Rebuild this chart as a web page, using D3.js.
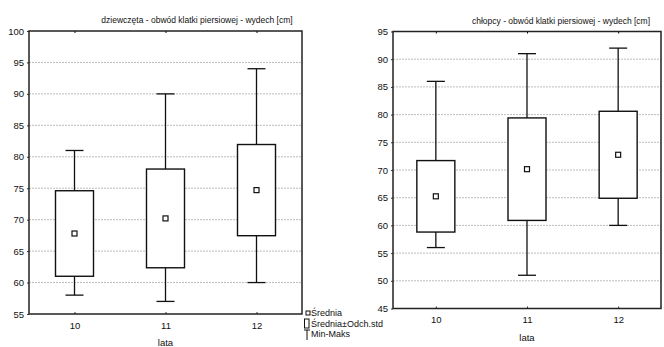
<!DOCTYPE html>
<html>
<head>
<meta charset="utf-8">
<script src="https://cdn.jsdelivr.net/npm/d3@7"></script>
<style>
  body { margin: 0; background: #fff; }
  svg { display: block; }
  text { font-family: "Liberation Sans Narrow", "Arial Narrow", "Liberation Sans", Arial, sans-serif; fill: #111; }
</style>
</head>
<body>
<div id="chart"></div>
<script>
// categories (age in years)
const categories = ['10', '11', '12'];

// girls
const girlsMean = [67.8, 70.2, 74.7];
const girlsSd = [6.8, 7.85, 7.25];
const girlsMin = [58, 57, 60];
const girlsMax = [81, 90, 94];
const girlsTicks = [55, 60, 65, 70, 75, 80, 85, 90, 95, 100];

// boys
const boysMean = [65.25, 70.15, 72.75];
const boysSd = [6.45, 9.25, 7.85];
const boysMin = [56, 51, 60];
const boysMax = [86, 91, 92];
const boysTicks = [45, 50, 55, 60, 65, 70, 75, 80, 85, 90, 95];

const legendLabels = ['Średnia', 'Średnia±Odch.std', 'Min-Maks'];

const svg = d3.select('#chart')
  .append('svg')
  .attr('width', 664)
  .attr('height', 347);

function drawBoxChart(opts) {
  const { left, top, width, height, title, titleX, mean, sd, min, max, ticks, pad } = opts;

  const g = svg.append('g')
    .attr('transform', `translate(${left},${top})`);

  const x = d3.scalePoint()
    .domain(categories)
    .range([0, width])
    .padding(pad);

  const y = d3.scaleLinear()
    .domain(d3.extent(ticks))
    .range([height, 0]);

  // grid lines
  g.append('g')
    .selectAll('line')
    .data(ticks.slice(1, -1))
    .join('line')
    .attr('x1', 0)
    .attr('x2', width)
    .attr('y1', d => y(d))
    .attr('y2', d => y(d))
    .attr('stroke', '#bdbdbd')
    .attr('stroke-width', 1)
    .attr('stroke-dasharray', '2,1');

  // y axis labels
  const yAxis = d3.axisLeft(y).tickValues(ticks).tickSize(2).tickPadding(3);
  const ya = g.append('g').call(yAxis);
  ya.select('.domain').remove();
  ya.selectAll('text').attr('font-size', 9.5).attr('fill', '#111');
  ya.selectAll('line').attr('stroke', '#333');

  // x axis labels
  const xAxis = d3.axisBottom(x).tickSize(-2).tickPadding(8);
  const xa = g.append('g')
    .attr('transform', `translate(0,${height})`)
    .call(xAxis);
  xa.select('.domain').remove();
  xa.selectAll('text').attr('font-size', 9.5).attr('fill', '#111');
  xa.selectAll('line').attr('stroke', '#333');

  // top ticks
  g.append('g')
    .call(d3.axisTop(x).tickSize(-2).tickFormat(''))
    .select('.domain').remove();

  const idx = d3.range(categories.length);
  const boxW = 38;
  const capW = 18;

  // whiskers
  g.append('g')
    .selectAll('line')
    .data(idx)
    .join('line')
    .attr('x1', i => x(categories[i]))
    .attr('x2', i => x(categories[i]))
    .attr('y1', i => y(min[i]))
    .attr('y2', i => y(max[i]))
    .attr('stroke', '#111')
    .attr('stroke-width', 1.3);

  // caps
  ['min', 'max'].forEach(k => {
    const vals = k === 'min' ? min : max;
    g.append('g')
      .selectAll('line')
      .data(idx)
      .join('line')
      .attr('x1', i => x(categories[i]) - capW / 2)
      .attr('x2', i => x(categories[i]) + capW / 2)
      .attr('y1', i => y(vals[i]))
      .attr('y2', i => y(vals[i]))
      .attr('stroke', '#111')
      .attr('stroke-width', 1.3);
  });

  // boxes (mean ± sd)
  g.append('g')
    .selectAll('rect')
    .data(idx)
    .join('rect')
    .attr('x', i => x(categories[i]) - boxW / 2)
    .attr('y', i => y(mean[i] + sd[i]))
    .attr('width', boxW)
    .attr('height', i => y(mean[i] - sd[i]) - y(mean[i] + sd[i]))
    .attr('fill', '#fff')
    .attr('stroke', '#111')
    .attr('stroke-width', 1.4);

  // means
  g.append('g')
    .selectAll('rect')
    .data(idx)
    .join('rect')
    .attr('x', i => x(categories[i]) - 2.5)
    .attr('y', i => y(mean[i]) - 2.5)
    .attr('width', 5)
    .attr('height', 5)
    .attr('fill', '#fff')
    .attr('stroke', '#111')
    .attr('stroke-width', 1.2);

  // frame
  g.append('rect')
    .attr('x', 0)
    .attr('y', 0)
    .attr('width', width)
    .attr('height', height)
    .attr('fill', 'none')
    .attr('stroke', '#222')
    .attr('stroke-width', 1.5);

  // title
  g.append('text')
    .attr('x', titleX)
    .attr('y', -8)
    .attr('text-anchor', 'middle')
    .attr('font-size', 8.5)
    .text(title);

  // x axis title
  g.append('text')
    .attr('x', width / 2)
    .attr('y', height + opts.xTitleDy)
    .attr('text-anchor', 'middle')
    .attr('font-size', 9.5)
    .text('lata');
}

drawBoxChart({
  left: 29, top: 31, width: 273, height: 283, pad: 0.5,
  title: 'dziewczęta - obwód klatki piersiowej - wydech [cm]', titleX: 168,
  mean: girlsMean, sd: girlsSd, min: girlsMin, max: girlsMax, ticks: girlsTicks,
  xTitleDy: 32
});

drawBoxChart({
  left: 393, top: 31.5, width: 268, height: 277, pad: 0.47,
  title: 'chłopcy - obwód klatki piersiowej - wydech [cm]', titleX: 168,
  mean: boysMean, sd: boysSd, min: boysMin, max: boysMax, ticks: boysTicks,
  xTitleDy: 32
});

// legend
const legend = svg.append('g').attr('transform', 'translate(304,313)');
const ly = d3.scalePoint().domain(legendLabels).range([0, 21]);

legend.selectAll('text')
  .data(legendLabels)
  .join('text')
  .attr('x', 7)
  .attr('y', d => ly(d))
  .attr('dy', '0.35em')
  .attr('font-size', 9)
  .text(d => d);

// symbols
legend.append('rect')
  .attr('x', 2).attr('y', ly(legendLabels[0]) - 2)
  .attr('width', 4).attr('height', 4)
  .attr('fill', '#fff').attr('stroke', '#111').attr('stroke-width', 1);
legend.append('rect')
  .attr('x', 0.5).attr('y', ly(legendLabels[1]) - 4.5)
  .attr('width', 4.5).attr('height', 9)
  .attr('fill', '#fff').attr('stroke', '#111').attr('stroke-width', 1);
legend.append('path')
  .attr('d', `M0,${ly(legendLabels[2]) - 4}h6M3,${ly(legendLabels[2]) - 4}v10`)
  .attr('fill', 'none').attr('stroke', '#111').attr('stroke-width', 1);
</script>
</body>
</html>
